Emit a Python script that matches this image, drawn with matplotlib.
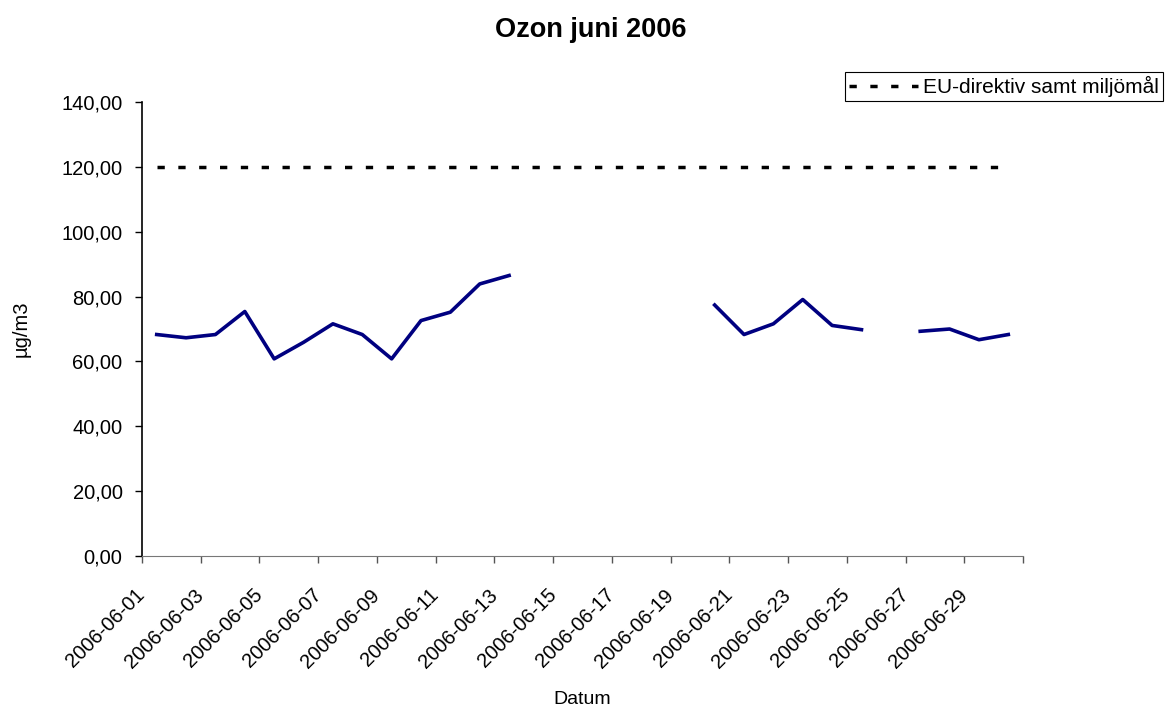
import numpy as np
import matplotlib as mpl
import matplotlib.pyplot as plt

mpl.rcParams['font.family'] = ['Liberation Sans', 'DejaVu Sans']
mpl.rcParams['font.size'] = 14.5

# Data: daily ozone, June 2006 (None = no measurement)
dates = ['2006-06-%02d' % d for d in range(1, 31)]
ozon = [68.3, 67.3, 68.3, 75.4, 60.8, 65.9, 71.6, 68.3, 60.8, 72.6,
        75.2, 83.9, 86.5, None, None, None, None, None, None, 77.4,
        68.3, 71.6, 79.1, 71.1, 69.8, None, 69.3, 70.0, 66.7, 68.3]
eu_limit = [120.0] * 30
y_ticks = [0, 20, 40, 60, 80, 100, 120, 140]

x = np.arange(len(dates)) + 0.5
oz = np.array([np.nan if v is None else v for v in ozon])

fig = plt.figure(figsize=(11.67, 7.11), dpi=100)
ax = fig.add_axes([0.1217, 0.218, 0.7549, 0.6385])

line_eu, = ax.plot(x, eu_limit, color='black', lw=2.5, dashes=(2.1, 3.9),
                   label='EU-direktiv samt miljömål')
ax.plot(x, oz, color='#000080', lw=2.6)

ax.set_yticks(y_ticks)
ax.set_yticklabels(['%d,00' % v for v in y_ticks])
# tick marks between categories, every second date labelled
ax.set_xticks(np.arange(0, 31, 2))
ax.set_xticklabels(dates[::2] + [''], rotation=45, ha='right', va='center',
                   rotation_mode='anchor')
ax.set_xlim(0, 30)
ax.set_ylim(0, 140)

for s in ['top', 'right']:
    ax.spines[s].set_visible(False)
ax.spines['left'].set_linewidth(1.2)
ax.spines['bottom'].set_color('#777777')
ax.tick_params(axis='both', length=5, width=1, labelsize=14.5)
ax.tick_params(axis='x', pad=21, colors='#555555', labelcolor='black')
ax.tick_params(axis='y', pad=9)

ax.set_ylabel('µg/m3', fontsize=14.5, labelpad=22)
ax.set_xlabel('Datum', fontsize=14, labelpad=14)
fig.text(0.5064, 0.958, 'Ozon juni 2006', fontsize=19.5, fontweight='bold',
         ha='center', va='center')

leg = fig.legend(handles=[line_eu], loc='upper right',
                 bbox_to_anchor=(0.9966, 0.8987), fontsize=15,
                 fancybox=False, framealpha=1, edgecolor='black',
                 handlelength=3.3, handletextpad=0.25, borderpad=0.2,
                 borderaxespad=0)
leg.get_frame().set_linewidth(0.8)

fig.savefig('out.png', dpi=100)
